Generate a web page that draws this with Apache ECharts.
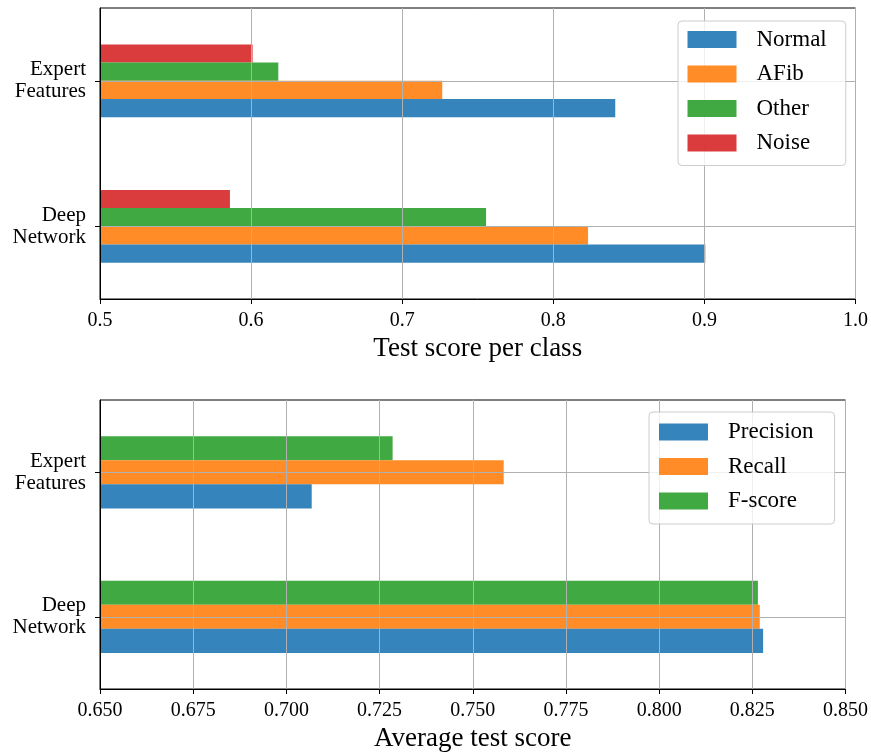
<!DOCTYPE html>
<html>
<head>
<meta charset="utf-8">
<script src="https://cdn.jsdelivr.net/npm/echarts@6/dist/echarts.min.js"></script>
<style>
  html, body { margin: 0; padding: 0; background: #ffffff; }
  #chart { width: 871px; height: 753px; }
</style>
</head>
<body>
<div id="chart"></div>
<script>
// Model categories (bottom to top on the y axis)
const categories = ['Deep Network', 'Expert Features'];

// Per-class test scores
const classNames = ['Normal', 'AFib', 'Other', 'Noise'];
const normalScores = [0.9006, 0.841];
const afibScores = [0.823, 0.7265];
const otherScores = [0.7555, 0.618];
const noiseScores = [0.586, 0.601];

// Averaged metrics
const metricNames = ['Precision', 'Recall', 'F-score'];
const precisionScores = [0.8279, 0.7068];
const recallScores = [0.8270, 0.7583];
const fScores = [0.8265, 0.7285];

// Tick values for the two x axes
const classTicks = [0.5, 0.6, 0.7, 0.8, 0.9, 1.0];
const metricTicks = [0.650, 0.675, 0.700, 0.725, 0.750, 0.775, 0.800, 0.825, 0.850];

const FONT = 'Liberation Serif';
const palette = {
  blue: 'rgba(31,119,180,0.9)',
  orange: 'rgba(255,127,14,0.9)',
  green: 'rgba(44,160,44,0.9)',
  red: 'rgba(214,39,40,0.9)'
};
const GRID_COLOR = '#b0b0b0';

function valueAxis(gridIndex, ticks, digits, name) {
  return {
    type: 'value',
    gridIndex: gridIndex,
    min: ticks[0],
    max: ticks[ticks.length - 1],
    interval: +(ticks[1] - ticks[0]).toFixed(6),
    z: 3,
    name: name,
    nameLocation: 'middle',
    nameGap: 36,
    nameTextStyle: { fontFamily: FONT, fontSize: 27, color: '#000' },
    axisLine: { show: true, lineStyle: { color: '#000', width: 1 } },
    axisTick: { show: true, length: 5, lineStyle: { color: '#000', width: 1 } },
    axisLabel: {
      fontFamily: FONT, fontSize: 20, color: '#000', margin: 12,
      formatter: v => v.toFixed(digits)
    },
    splitLine: { show: true, lineStyle: { color: GRID_COLOR, width: 1 } }
  };
}

function categoryAxis(gridIndex) {
  return {
    type: 'category',
    gridIndex: gridIndex,
    data: categories,
    z: 3,
    axisLine: { show: true, lineStyle: { color: '#000', width: 1 } },
    axisTick: { show: true, alignWithLabel: true, length: 5, lineStyle: { color: '#000', width: 1 } },
    axisLabel: {
      fontFamily: FONT, fontSize: 21, color: '#000', margin: 14,
      lineHeight: 22, align: 'right', padding: [9, 0, 0, 0],
      formatter: v => v.replace(' ', '\n')
    },
    splitLine: { show: false }
  };
}

// Horizontal grid lines through the category centres, carried by an empty line series
function categoryGridSeries(axisIndex) {
  return {
    type: 'line',
    name: 'category-grid-' + axisIndex,
    xAxisIndex: axisIndex,
    yAxisIndex: axisIndex,
    data: [],
    silent: true,
    markLine: {
      silent: true,
      z: 3,
      symbol: ['none', 'none'],
      label: { show: false },
      emphasis: { disabled: true },
      lineStyle: { color: GRID_COLOR, width: 1, type: 'solid' },
      data: categories.map(c => ({ yAxis: c }))
    }
  };
}

function barSeries(name, data, color, axisIndex) {
  return {
    name: name,
    type: 'bar',
    xAxisIndex: axisIndex,
    yAxisIndex: axisIndex,
    data: data,
    barGap: '0%',
    barCategoryGap: '50%',
    itemStyle: { color: color },
    emphasis: { disabled: true }
  };
}

// Series listed top-to-bottom within each category band
const classSeries = [
  barSeries(classNames[3], noiseScores, palette.red, 0),
  barSeries(classNames[2], otherScores, palette.green, 0),
  barSeries(classNames[1], afibScores, palette.orange, 0),
  barSeries(classNames[0], normalScores, palette.blue, 0),
  categoryGridSeries(0)
];
const metricSeries = [
  barSeries(metricNames[2], fScores, palette.green, 1),
  barSeries(metricNames[1], recallScores, palette.orange, 1),
  barSeries(metricNames[0], precisionScores, palette.blue, 1),
  categoryGridSeries(1)
];

function legend(names, left, top, padding) {
  return {
    orient: 'vertical',
    left: left,
    top: top,
    data: names,
    itemWidth: 49,
    itemHeight: 17,
    itemGap: 11.5,
    padding: padding,
    backgroundColor: 'rgba(255,255,255,0.8)',
    borderColor: '#cccccc',
    borderWidth: 1,
    borderRadius: 4,
    icon: 'rect',
    textStyle: {
      fontFamily: FONT, fontSize: 23, color: '#000',
      padding: [0, 0, 0, 15]
    }
  };
}

const chart = echarts.init(document.getElementById('chart'), null, { renderer: 'canvas' });
chart.setOption({
  animation: false,
  backgroundColor: '#ffffff',
  textStyle: { fontFamily: FONT },
  grid: [
    { left: 100, top: 8, width: 758, height: 291, show: true, borderColor: '#000', borderWidth: 1, backgroundColor: 'transparent' },
    { left: 100, top: 400, width: 747, height: 292, show: true, borderColor: '#000', borderWidth: 1, backgroundColor: 'transparent' }
  ],
  legend: [
    legend(classNames, 678, 21, [7, 19, 11, 9.5]),
    legend(metricNames, 649, 412, [8.5, 21, 11.5, 10])
  ],
  xAxis: [
    valueAxis(0, classTicks, 1, 'Test score per class'),
    valueAxis(1, metricTicks, 3, 'Average test score')
  ],
  yAxis: [categoryAxis(0), categoryAxis(1)],
  series: classSeries.concat(metricSeries)
});
</script>
</body>
</html>
